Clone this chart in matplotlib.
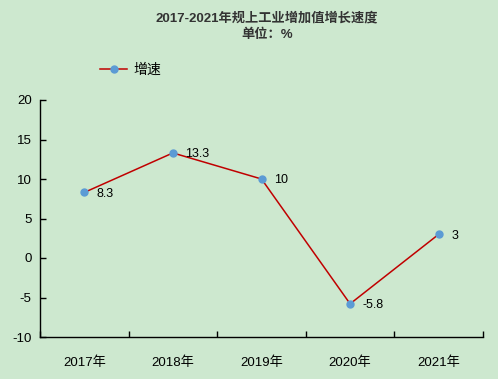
import matplotlib
matplotlib.use("Agg")
import matplotlib.pyplot as plt

categories = ["2017年", "2018年", "2019年", "2020年", "2021年"]
values = [8.3, 13.3, 10, -5.8, 3]
value_labels = ["8.3", "13.3", "10", "-5.8", "3"]
yticks = [-10, -5, 0, 5, 10, 15, 20]
series_name = "增速"
title_lines = ["2017-2021年规上工业增加值增长速度", "单位：%"]

fonts = ["Liberation Sans", "Noto Sans CJK SC", "DejaVu Sans"]
plt.rcParams['font.family'] = fonts

bg = "#CDE8CF"
fig = plt.figure(figsize=(4.98, 3.79), dpi=100, facecolor=bg)
ax = fig.add_axes([40/498, 1-337/379, (483-40)/498, (337-100)/379], facecolor=bg)

x = list(range(len(categories)))
line, = ax.plot(x, values, color="#C00000", lw=1.1, marker="o", ms=5,
                markerfacecolor="#5B9BD5", markeredgecolor="#5B9BD5", label=series_name)

for xi, v, lab in zip(x, values, value_labels):
    ax.annotate(lab, (xi, v), xytext=(9, -1), textcoords="offset points",
                ha="left", va="center", fontsize=9, color="black")

ax.set_xlim(-0.5, len(categories) - 0.5)
ax.set_ylim(-10, 20)
ax.set_yticks(yticks)
ax.set_yticklabels([str(t) for t in yticks], fontsize=9.5)
ax.tick_params(axis="y", direction="in", length=4, width=1, pad=6)
ax.set_xticks([i - 0.5 for i in range(len(categories) + 1)], minor=False)
ax.set_xticklabels([])
ax.tick_params(axis="x", direction="in", length=4, width=1)
ax.set_xticks(x, minor=True)
ax.set_xticklabels(categories, minor=True, fontsize=9.5)
ax.tick_params(axis="x", which="minor", length=0, pad=14)

for s in ["top", "right"]:
    ax.spines[s].set_visible(False)
for s in ["left", "bottom"]:
    ax.spines[s].set_linewidth(1)

fig.text(267/498, 1-18/379, title_lines[0], ha="center", va="center",
         fontsize=9.5, fontweight="bold", color="#333333")
fig.text(267/498, 1-35/379, title_lines[1], ha="center", va="center",
         fontsize=9.5, fontweight="bold", color="#333333")

leg = fig.legend(handles=[line], loc="center left", bbox_to_anchor=(100/498, 1-70/379),
                 frameon=False, fontsize=10, handlelength=1.95, handletextpad=0.45,
                 borderpad=0, borderaxespad=0)

fig.savefig("out.png", dpi=100, facecolor=bg)
